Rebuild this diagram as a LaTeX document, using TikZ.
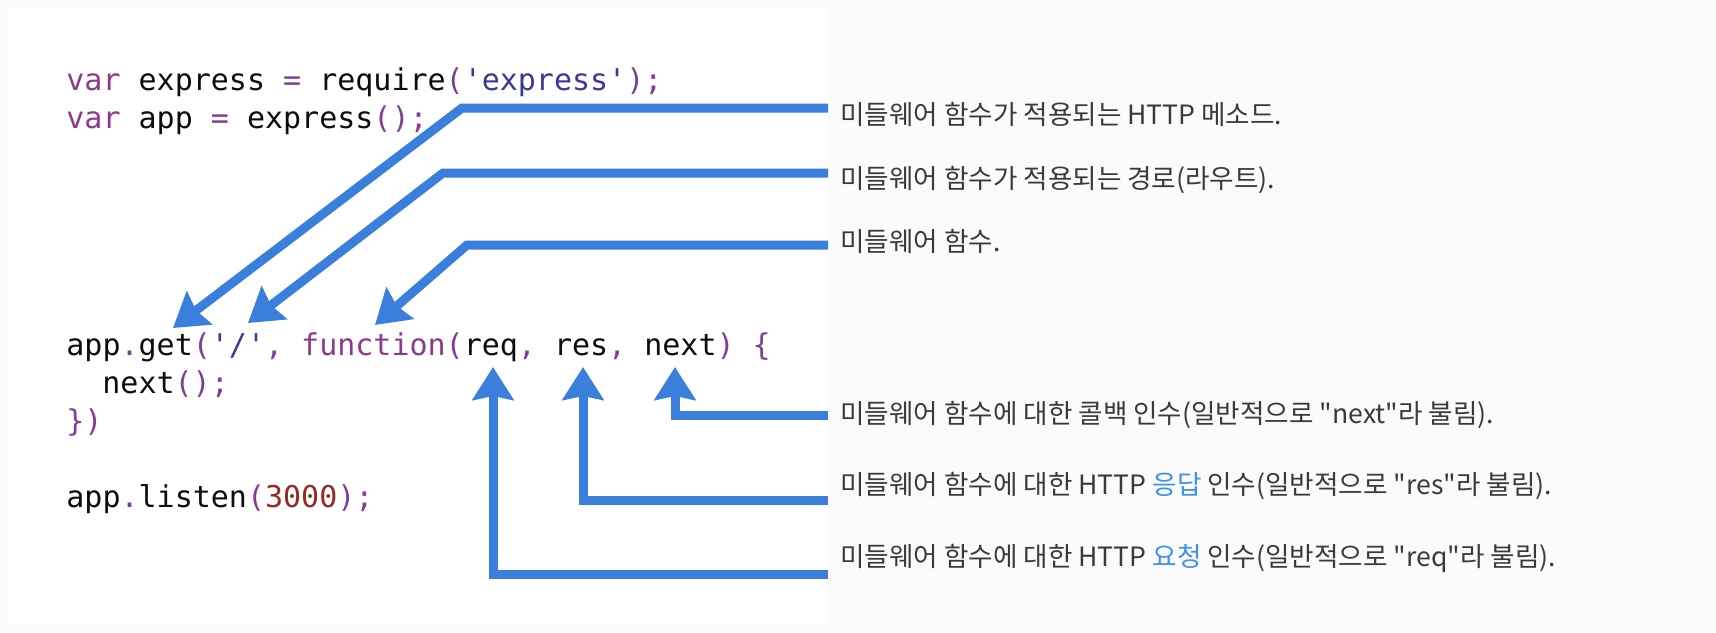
\documentclass[tikz,border=0pt]{standalone}
\usepackage{fontspec}
\setmonofont{DejaVu Sans Mono}
\newfontfamily\kofont{Noto Sans CJK KR}
\usetikzlibrary{positioning,arrows.meta,calc}
\definecolor{pagebg}{RGB}{251,251,251}
\definecolor{arrowblue}{RGB}{59,127,221}
\definecolor{hiblue}{RGB}{62,145,236}
\definecolor{notegray}{RGB}{58,58,58}
\definecolor{kwpurple}{RGB}{142,58,140}
\definecolor{punct}{RGB}{128,62,150}
\definecolor{strblue}{RGB}{58,56,152}
\definecolor{numred}{RGB}{150,42,30}
\newcommand{\kw}[1]{\textcolor{kwpurple}{#1}}
\newcommand{\pu}[1]{\textcolor{punct}{#1}}
\newcommand{\str}[1]{\textcolor{strblue}{#1}}
\newcommand{\num}[1]{\textcolor{numred}{#1}}
\newcommand{\hi}[1]{\textcolor{hiblue}{#1}}

\begin{document}
\begin{tikzpicture}[x=0.5pt,y=-0.5pt,
    code/.style={anchor=base west,inner sep=0pt,text=black!95,
      font=\ttfamily\fontsize{15}{18}\selectfont},
    note/.style={anchor=base west,inner sep=0pt,text=notegray,
      font=\kofont\fontsize{13.3}{16}\selectfont},
    pointer/.style={arrowblue,line width=4.5pt,line join=miter,
      -{Stealth[length=16.5pt,width=20.5pt,inset=2pt]}}]
    \useasboundingbox (0,0) rectangle (1716,632);
    % page and the white code panel
    \fill[pagebg] (0,0) rectangle (1716,632);
    \fill[white] (7,8) rectangle (828,625);
    % the code
    \node[code] (l1) at (66,90)  {\kw{var} express \pu{=} require\pu{(}\str{'express'}\pu{);}};
    \node[code] (l2) at (66,128) {\kw{var} app \pu{=} express\pu{();}};
    \node[code] (l3) at (66,355) {app\pu{.}get\pu{(}\str{'/'}\pu{,} \kw{function}\pu{(}req\pu{,} res\pu{,} next\pu{)} \pu{\{}};
    \node[code] (l4) at (102,393) {next\pu{();}};
    \node[code] (l5) at (66,431) {\pu{\})}};
    \node[code] (l6) at (66,507) {app\pu{.}listen\pu{(}\num{3000}\pu{);}};
    % the notes
    \node[note] (n1) at (840,124) {미들웨어 함수가 적용되는 HTTP 메소드.};
    \node[note] (n2) at (840,188) {미들웨어 함수가 적용되는 경로(라우트).};
    \node[note] (n3) at (840,251) {미들웨어 함수.};
    \node[note] (n4) at (840,423) {미들웨어 함수에 대한 콜백 인수(일반적으로 "next"라 불림).};
    \node[note] (n5) at (840,494) {미들웨어 함수에 대한 HTTP \hi{응답} 인수(일반적으로 "res"라 불림).};
    \node[note] (n6) at (840,566) {미들웨어 함수에 대한 HTTP \hi{요청} 인수(일반적으로 "req"라 불림).};
    % where the arrows start and end
    \coordinate (s1) at (828,108);  \coordinate (tGet)  at (173,328);
    \coordinate (s2) at (828,173);  \coordinate (tPath) at (248,323);
    \coordinate (s3) at (828,245);  \coordinate (tFunc) at (375,325);
    \coordinate (s4) at (828,415);  \coordinate (tNext) at (675,367);
    \coordinate (s5) at (828,500);  \coordinate (tRes)  at (583,367);
    \coordinate (s6) at (828,574);  \coordinate (tReq)  at (493,367);
    % arrows
    \draw[pointer] (s1) -- (462,108) -- (tGet);
    \draw[pointer] (s2) -- (443,173) -- (tPath);
    \draw[pointer] (s3) -- (467,245) -- (tFunc);
    \draw[pointer] (s4) -| (tNext);
    \draw[pointer] (s5) -| (tRes);
    \draw[pointer] (s6) -| (tReq);
\end{tikzpicture}
\end{document}
